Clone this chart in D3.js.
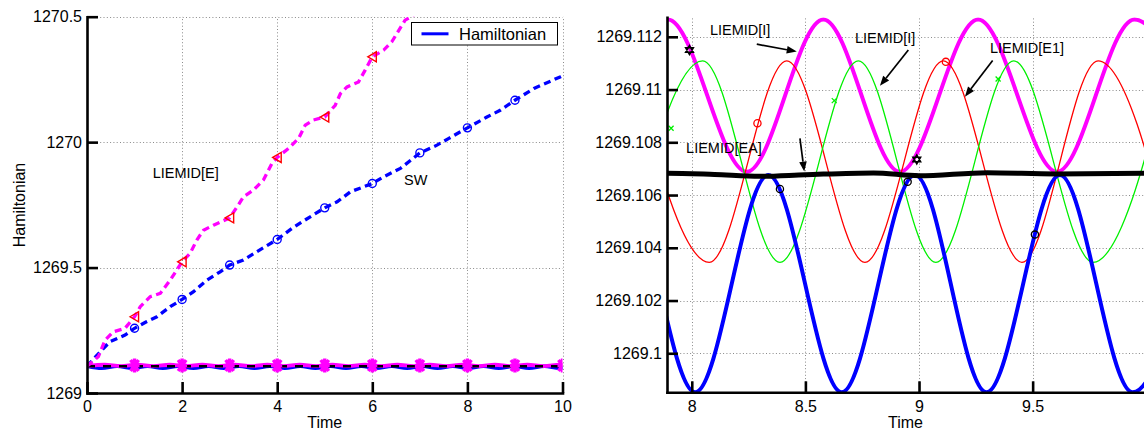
<!DOCTYPE html>
<html>
<head>
<meta charset="utf-8">
<script src="https://cdn.jsdelivr.net/npm/d3@7"></script>
<style>
  html, body { margin: 0; padding: 0; background: #fff; }
  svg { display: block; font-family: "Liberation Sans", Arial, Helvetica, sans-serif; }
</style>
</head>
<body>
<svg id="chart" width="1144" height="430"></svg>
<script>
// ---------------- data ----------------
// Left panel, explicit schemes drifting away from the true energy
const swTime  = [0, 0.31, 0.48, 0.8, 1, 1.25, 1.47, 1.75, 2, 2.24, 2.52, 2.8, 3, 3.29, 3.57, 4, 4.31, 4.52, 5, 5.26, 5.54, 6, 6.24, 6.59, 7, 7.36, 7.61, 8, 8.41, 8.69, 9, 9.4, 9.95, 10];
const swValue = [1269.107, 1269.171, 1269.204, 1269.231, 1269.258, 1269.284, 1269.304, 1269.344, 1269.373, 1269.404, 1269.45, 1269.483, 1269.51, 1269.53, 1269.563, 1269.612, 1269.656, 1269.682, 1269.738, 1269.762, 1269.802, 1269.835, 1269.862, 1269.895, 1269.957, 1269.988, 1270.015, 1270.057, 1270.10, 1270.127, 1270.167, 1270.214, 1270.26, 1270.265];
const swMarkTime = [1, 2, 3, 4, 5, 6, 7, 8, 9];

const eTime  = [0, 0.24, 0.38, 0.55, 0.8, 1, 1.12, 1.33, 1.54, 1.75, 2, 2.17, 2.31, 2.45, 2.66, 3, 3.18, 3.29, 3.5, 3.71, 3.89, 4, 4.24, 4.45, 4.59, 4.76, 5, 5.22, 5.33, 5.47, 5.71, 5.85, 6, 6.24, 6.41, 6.69, 6.9];
const eValue = [1269.107, 1269.145, 1269.211, 1269.244, 1269.258, 1269.304, 1269.344, 1269.384, 1269.397, 1269.45, 1269.523, 1269.557, 1269.61, 1269.649, 1269.669, 1269.698, 1269.749, 1269.782, 1269.809, 1269.849, 1269.915, 1269.939, 1269.975, 1270.015, 1270.068, 1270.088, 1270.10, 1270.147, 1270.194, 1270.22, 1270.24, 1270.287, 1270.34, 1270.367, 1270.40, 1270.486, 1270.51];
const eMarkTime = [1, 2, 3, 4, 5, 6];

// Energy-conserving schemes, listed by their turning points (peaks and troughs)
const hamTime  = [0, 0.311, 0.632, 0.953, 1.274, 1.595, 1.916, 2.237, 2.558, 2.879, 3.2, 3.521, 3.842, 4.163, 4.484, 4.805, 5.126, 5.447, 5.768, 6.089, 6.41, 6.731, 7.052, 7.373, 7.694, 8.015, 8.337, 8.66, 8.982, 9.297, 9.62, 9.94, 10.26];
const hamValue = [1269.10676, 1269.09852, 1269.10676, 1269.09852, 1269.10676, 1269.09852, 1269.10676, 1269.09852, 1269.10676, 1269.09852, 1269.10676, 1269.09852, 1269.10676, 1269.09852, 1269.10676, 1269.09852, 1269.10676, 1269.09852, 1269.10676, 1269.09852, 1269.10676, 1269.09852, 1269.10676, 1269.09852, 1269.10676, 1269.09852, 1269.10676, 1269.09852, 1269.10676, 1269.09852, 1269.10676, 1269.09852, 1269.10676];

const liTime  = [0, 0.371, 0.713, 1.055, 1.397, 1.739, 2.081, 2.423, 2.765, 3.107, 3.449, 3.791, 4.133, 4.475, 4.817, 5.159, 5.501, 5.843, 6.185, 6.527, 6.869, 7.211, 7.553, 7.895, 8.242, 8.579, 8.916, 9.26, 9.607, 9.948, 10.29];
const liValue = [1269.10688, 1269.11266, 1269.10688, 1269.11266, 1269.10688, 1269.11266, 1269.10688, 1269.11266, 1269.10688, 1269.11266, 1269.10688, 1269.11266, 1269.10688, 1269.11266, 1269.10688, 1269.11266, 1269.10688, 1269.11266, 1269.10688, 1269.11266, 1269.10688, 1269.11266, 1269.10688, 1269.11266, 1269.10688, 1269.11266, 1269.10688, 1269.11266, 1269.10688, 1269.11266, 1269.10688];

const e1Time  = [7.73, 8.077, 8.418, 8.762, 9.107, 9.453, 9.788, 10.13];
const e1Value = [1269.11109, 1269.10345, 1269.11109, 1269.10345, 1269.11109, 1269.10345, 1269.11109, 1269.10345];

const i2Time  = [7.70, 8.048, 8.388, 8.733, 9.074, 9.417, 9.766, 10.11];
const i2Value = [1269.10345, 1269.11109, 1269.10345, 1269.11109, 1269.10345, 1269.11109, 1269.10345, 1269.11109];

const eaTime  = [0, 1, 2, 3, 4, 5, 6, 7, 7.89, 8.1, 8.3, 8.5, 8.8, 9.0, 9.3, 9.6, 10];
const eaValue = [1269.1068, 1269.1068, 1269.1068, 1269.1068, 1269.1068, 1269.1068, 1269.1068, 1269.1068, 1269.10683, 1269.10678, 1269.10671, 1269.10677, 1269.10684, 1269.10673, 1269.10685, 1269.1068, 1269.10683];

// markers sitting on the zoomed curves
const liMarkT  = [7.99, 8.99];           const liMarkV  = [1269.1115, 1269.10735];
const e1MarkT  = [8.289, 9.118];         const e1MarkV  = [1269.10872, 1269.11105];
const i2MarkT  = [7.909, 8.627, 9.348];  const i2MarkV  = [1269.10853, 1269.10958, 1269.1104];
const hamMarkT = [8.388, 8.95, 9.51];    const hamMarkV = [1269.10623, 1269.1065, 1269.1045];
const liLeftMarkT = [1, 2, 3, 4, 5, 6, 7, 8, 9, 10];

// ticks
const leftXTicks  = [0, 2, 4, 6, 8, 10];
const leftXLabels = ["0", "2", "4", "6", "8", "10"];
const leftYTicks  = [1269, 1269.5, 1270, 1270.5];
const leftYLabels = ["1269", "1269.5", "1270", "1270.5"];
const rightXTicks  = [8, 8.5, 9, 9.5];
const rightXLabels = ["8", "8.5", "9", "9.5"];
const rightYTicks  = [1269.1, 1269.102, 1269.104, 1269.106, 1269.108, 1269.11, 1269.112];
const rightYLabels = ["1269.1", "1269.102", "1269.104", "1269.106", "1269.108", "1269.11", "1269.112"];

// text annotations (data coordinates)
const leftNotes = [
  { text: "LIEMID[E]", t: 1.382, v: 1269.857 },
  { text: "SW",        t: 6.667, v: 1269.829 }
];
const rightNotes = [
  { text: "LIEMID[I]",  t: 8.08,  v: 1269.11207, from: [8.286, 1269.11172], to: [8.462, 1269.11144] },
  { text: "LIEMID[I]",  t: 8.718, v: 1269.11177, from: [8.953, 1269.1115],  to: [8.828, 1269.11014] },
  { text: "LIEMID[E1]", t: 9.312, v: 1269.11139, from: [9.324, 1269.1111],  to: [9.202, 1269.10973] },
  { text: "LIEMID[EA]", t: 7.975, v: 1269.10759, from: [8.476, 1269.10815], to: [8.495, 1269.10689] }
];

// ---------------- drawing ----------------
const svg = d3.select("#chart");
const zip = (ts, vs) => ts.map((t, i) => [t, vs[i]]);
const valueAt = (ts, vs, t) => vs[ts.indexOf(t)];

const TICK_FONT = 16, NOTE_FONT = 14.5;

function panel(id, x, y, xTicks, xLabels, yTicks, yLabels, gridX) {
  const [x0, x1] = x.range(), [y0, y1] = y.range();
  const g = svg.append("g");
  svg.append("clipPath").attr("id", id).append("rect")
    .attr("x", x0).attr("y", y1).attr("width", x1 - x0).attr("height", y0 - y1);

  // dotted grid
  const grid = g.append("g").attr("stroke", "#8a8a8a").attr("stroke-width", 1).attr("stroke-dasharray", "1,2.3");
  grid.selectAll(".gx").data(gridX).join("line")
    .attr("x1", d => Math.round(x(d)) + 0.5).attr("x2", d => Math.round(x(d)) + 0.5)
    .attr("y1", y0).attr("y2", y1);
  grid.selectAll(".gy").data(yTicks).join("line")
    .attr("y1", d => Math.round(y(d)) + 0.5).attr("y2", d => Math.round(y(d)) + 0.5)
    .attr("x1", x0).attr("x2", x1);

  const plot = g.append("g").attr("clip-path", `url(#${id})`);
  const axes = g.append("g");

  const ay = axes.append("g").attr("transform", `translate(${x0},0)`)
    .call(d3.axisLeft(y).tickValues(yTicks).tickFormat(d => yLabels[yTicks.indexOf(d)])
      .tickSize(-11).tickSizeOuter(0).tickPadding(5));
  const ax = axes.append("g").attr("transform", `translate(0,${y0})`)
    .call(d3.axisBottom(x).tickValues(xTicks).tickFormat(d => xLabels[xTicks.indexOf(d)])
      .tickSize(-11).tickSizeOuter(0).tickPadding(8));
  [ax, ay].forEach(a => {
    a.select(".domain").attr("stroke", "#000").attr("stroke-width", 2.6).attr("stroke-linecap", "square");
    a.selectAll(".tick line").attr("stroke", "#000").attr("stroke-width", 2.6);
    a.selectAll(".tick text").attr("fill", "#000").attr("font-size", TICK_FONT)
      .attr("font-family", '"Liberation Sans", Arial, sans-serif');
  });

  svg.append("text").attr("x", (x0 + x1) / 2).attr("y", 428).attr("text-anchor", "middle")
    .attr("font-size", 16).text("Time");
  return { plot, g };
}

function arrowhead(ax, ay, bx, by, len, half) {
  const dx = bx - ax, dy = by - ay, L = Math.hypot(dx, dy);
  const ux = dx / L, uy = dy / L;
  const px = bx - ux * len, py = by - uy * len;
  return { base: [px, py], pts: [[bx, by], [px - uy * half, py + ux * half], [px + uy * half, py - ux * half]] };
}

// ===== left panel =====
const xL = d3.scaleLinear().domain([0, 10]).range([87, 562.5]);
const yL = d3.scaleLinear().domain([1269, 1270.5]).range([393, 16.7]);
const L = panel("clipL", xL, yL, leftXTicks, leftXLabels, leftYTicks, leftYLabels, [2, 4, 6, 8, 10]);

const lineL = d3.line().x(d => xL(d[0])).y(d => yL(d[1]));
const smoothL = d3.line().x(d => xL(d[0])).y(d => yL(d[1])).curve(d3.curveMonotoneX);

// conserved-energy bundle near the bottom
L.plot.append("path").attr("d", smoothL(zip(hamTime, hamValue)))
  .attr("fill", "none").attr("stroke", "#0000ff").attr("stroke-width", 3.5);
L.plot.append("path").attr("d", smoothL(zip(liTime, liValue)))
  .attr("fill", "none").attr("stroke", "#ff00ff").attr("stroke-width", 3.8);
L.plot.append("path").attr("d", smoothL(zip(eaTime, eaValue)))
  .attr("fill", "none").attr("stroke", "#000").attr("stroke-width", 2.4).attr("stroke-dasharray", "8,8");
// asterisk markers on the magenta curve
L.plot.selectAll(".ast").data(liLeftMarkT).join("path")
  .attr("transform", t => `translate(${xL(t)},${yL(1269.1098)})`)
  .attr("d", "M-5,0H5M0,-7V7M-4,-5.5L4,5.5M-4,5.5L4,-5.5")
  .attr("stroke", "#ff00ff").attr("stroke-width", 3.4).attr("fill", "none");

// drifting schemes
L.plot.append("path").attr("d", lineL(zip(swTime, swValue)))
  .attr("fill", "none").attr("stroke", "#0000ff").attr("stroke-width", 3.3).attr("stroke-dasharray", "7,4.5");
L.plot.append("path").attr("d", lineL(zip(eTime, eValue)))
  .attr("fill", "none").attr("stroke", "#ff00ff").attr("stroke-width", 3.3).attr("stroke-dasharray", "7,4.5");

L.plot.selectAll(".swm").data(swMarkTime).join("circle")
  .attr("cx", t => xL(t)).attr("cy", t => yL(valueAt(swTime, swValue, t))).attr("r", 4)
  .attr("fill", "none").attr("stroke", "#0000ff").attr("stroke-width", 1.4);
L.plot.selectAll(".em").data(eMarkTime).join("path")
  .attr("transform", t => `translate(${xL(t)},${yL(valueAt(eTime, eValue, t))})`)
  .attr("d", "M-4.5,0L4,-5L4,5Z")
  .attr("fill", "none").attr("stroke", "#ff0000").attr("stroke-width", 1.4);

// notes
L.g.selectAll(".note").data(leftNotes).join("text")
  .attr("x", d => xL(d.t)).attr("y", d => yL(d.v))
  .attr("font-size", NOTE_FONT).attr("fill", "#000").text(d => d.text);

// legend
const leg = svg.append("g");
leg.append("rect").attr("x", 411.5).attr("y", 22.5).attr("width", 146).attr("height", 22.5)
  .attr("fill", "#fff").attr("stroke", "#000").attr("stroke-width", 1);
leg.append("line").attr("x1", 421.5).attr("x2", 448.5).attr("y1", 33.8).attr("y2", 33.8)
  .attr("stroke", "#0000ff").attr("stroke-width", 3);
leg.append("text").attr("x", 459).attr("y", 39.8).attr("font-size", 16.5).text("Hamiltonian");

// y label
svg.append("text").attr("transform", "translate(25,205) rotate(-90)")
  .attr("text-anchor", "middle").attr("font-size", 16).text("Hamiltonian");

// ===== right panel =====
const xR = d3.scaleLinear().domain([7.891, 9.99]).range([667, 1144]);
const yR = d3.scaleLinear().domain([1269.09852, 1269.11274]).range([392.3, 17.3]);
const R = panel("clipR", xR, yR, rightXTicks, rightXLabels, rightYTicks, rightYLabels, rightXTicks);

const smoothR = d3.line().x(d => xR(d[0])).y(d => yR(d[1])).curve(d3.curveMonotoneX);
const curve = (ts, vs, color, w) => R.plot.append("path").attr("d", smoothR(zip(ts, vs)))
  .attr("fill", "none").attr("stroke", color).attr("stroke-width", w).attr("stroke-linejoin", "round");

curve(liTime, liValue, "#ff00ff", 4);
curve(e1Time, e1Value, "#ff0000", 1.3);
curve(i2Time, i2Value, "#00f000", 1.3);
curve(hamTime, hamValue, "#0000ff", 4);
curve(eaTime, eaValue, "#000", 5);

// markers
const hex = r => {
  const p = a => [r * Math.cos(a), r * Math.sin(a)];
  const tri = off => [0, 1, 2].map(k => p(off + k * 2 * Math.PI / 3));
  const up = tri(-Math.PI / 2), dn = tri(Math.PI / 2);
  return "M" + up.join("L") + "Z" + "M" + dn.join("L") + "Z";
};
R.plot.selectAll(".lim").data(zip(liMarkT, liMarkV)).join("path")
  .attr("transform", d => `translate(${xR(d[0])},${yR(d[1])})`)
  .attr("d", hex(4.5)).attr("fill", "none").attr("stroke", "#000").attr("stroke-width", 1.5);
R.plot.selectAll(".e1m").data(zip(e1MarkT, e1MarkV)).join("circle")
  .attr("cx", d => xR(d[0])).attr("cy", d => yR(d[1])).attr("r", 3.6)
  .attr("fill", "none").attr("stroke", "#ff0000").attr("stroke-width", 1.3);
R.plot.selectAll(".i2m").data(zip(i2MarkT, i2MarkV)).join("path")
  .attr("transform", d => `translate(${xR(d[0])},${yR(d[1])})`)
  .attr("d", "M-2.5,-2.5L2.5,2.5M-2.5,2.5L2.5,-2.5")
  .attr("fill", "none").attr("stroke", "#00f000").attr("stroke-width", 1.3);
R.plot.selectAll(".hm").data(zip(hamMarkT, hamMarkV)).join("circle")
  .attr("cx", d => xR(d[0])).attr("cy", d => yR(d[1])).attr("r", 3.6)
  .attr("fill", "none").attr("stroke", "#000").attr("stroke-width", 1.3);

// annotations with arrows
const notes = R.g.append("g");
rightNotes.forEach(n => {
  notes.append("text").attr("x", xR(n.t)).attr("y", yR(n.v))
    .attr("font-size", NOTE_FONT).attr("fill", "#000").text(n.text);
  const ax0 = xR(n.from[0]), ay0 = yR(n.from[1]), bx = xR(n.to[0]), by = yR(n.to[1]);
  const h = arrowhead(ax0, ay0, bx, by, 10, 3.8);
  notes.append("line").attr("x1", ax0).attr("y1", ay0).attr("x2", h.base[0]).attr("y2", h.base[1])
    .attr("stroke", "#000").attr("stroke-width", 1.7);
  notes.append("polygon").attr("points", h.pts.map(p => p.join(",")).join(" ")).attr("fill", "#000");
});
</script>
</body>
</html>
